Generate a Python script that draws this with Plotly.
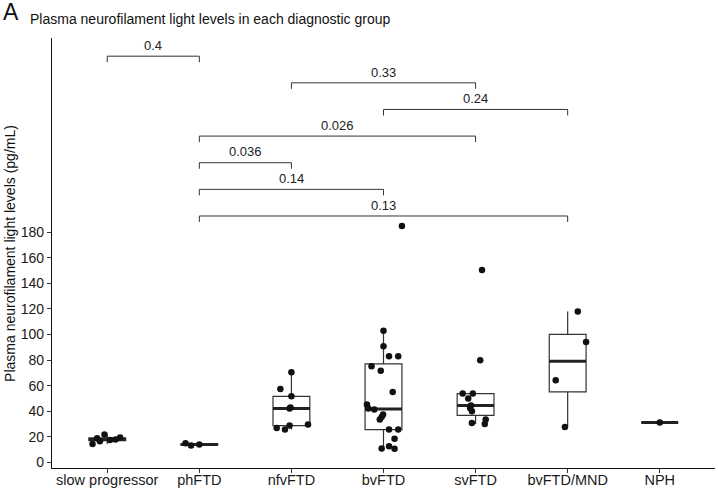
import numpy as np
import plotly.graph_objects as go

# ---------------- data ----------------
categories = ["slow progressor", "phFTD", "nfvFTD", "bvFTD", "svFTD", "bvFTD/MND", "NPH"]

values_slow = [21.8, 14.5, 16.5, 17.5, 18.0, 19.0, 19.5]
values_ph = [15.0, 13.2, 14.0]
values_nfv = [70.4, 57.4, 51.7, 42.1, 43.0, 27.0, 25.7, 28.8, 29.6]
values_bv = [184.7, 102.9, 90.7, 82.9, 82.9, 75.1, 71.7, 55.1, 45.2, 42.1,
             41.3, 37.4, 35.6, 33.5, 25.7, 25.7, 18.5, 10.9, 12.7, 10.7]
values_sv = [150.4, 79.8, 53.8, 53.8, 49.9, 44.5, 42.6, 40.0, 33.5, 30.9, 30.1]
values_mnd = [117.9, 94.1, 64.2, 27.8]
values_nph = [31.2]

# horizontal jitter of each point (category units)
jitter_slow = [-0.03, -0.16, -0.08, 0.03, 0.09, -0.11, 0.14]
jitter_ph = [-0.15, -0.09, 0.0]
jitter_nfv = [0.0, -0.12, 0.0, -0.02, -0.01, -0.16, -0.07, -0.02, 0.18]
jitter_bv = [0.20, 0.0, 0.0, 0.06, 0.16, -0.13, -0.03, 0.10, -0.18, -0.165,
             -0.10, -0.005, -0.02, -0.04, 0.06, 0.16, 0.12, -0.02, 0.06, 0.12]
jitter_sv = [0.07, 0.05, -0.14, -0.03, -0.08, -0.05, -0.06, -0.04, 0.11, -0.04, 0.10]
jitter_mnd = [0.11, 0.20, -0.13, -0.03]
jitter_nph = [0.0]

group_values = [values_slow, values_ph, values_nfv, values_bv, values_sv, values_mnd, values_nph]
group_jitter = [jitter_slow, jitter_ph, jitter_nfv, jitter_bv, jitter_sv, jitter_mnd, jitter_nph]

# pairwise comparisons (group 1, group 2, p-value label), bottom to top
comp_group1 = ["phFTD", "phFTD", "phFTD", "phFTD", "bvFTD", "nfvFTD", "slow progressor"]
comp_group2 = ["bvFTD/MND", "bvFTD", "nfvFTD", "svFTD", "bvFTD/MND", "svFTD", "phFTD"]
comp_labels = ["0.13", "0.14", "0.036", "0.026", "0.24", "0.33", "0.4"]
comp_y = [192.5, 213.3, 234.1, 254.9, 275.7, 296.5, 317.3]

y_ticks = [0, 20, 40, 60, 80, 100, 120, 140, 160, 180]

# ---------------- figure ----------------
FONT = "Liberation Sans, Arial, Helvetica, sans-serif"
BOX_W = 0.4
fig = go.Figure()


def box_stats(v):
    a = np.asarray(v, dtype=float)
    q1, med, q3 = np.percentile(a, [25, 50, 75])
    iqr = q3 - q1
    lo = a[a >= q1 - 1.5 * iqr].min()
    hi = a[a <= q3 + 1.5 * iqr].max()
    return q1, med, q3, lo, hi


for i, vals in enumerate(group_values):
    q1, med, q3, lo, hi = box_stats(vals)
    fig.add_trace(go.Box(
        x=[i], q1=[q1], median=[med], q3=[q3], lowerfence=[lo], upperfence=[hi],
        width=BOX_W, whiskerwidth=0, boxpoints=False,
        fillcolor="white", line=dict(color="#333333", width=1.2),
        showlegend=False, hoverinfo="skip",
    ))
    # thicker median line (as in ggplot)
    fig.add_trace(go.Scatter(
        x=[i - BOX_W / 2, i + BOX_W / 2], y=[med, med], mode="lines",
        line=dict(color="#222222", width=3), showlegend=False, hoverinfo="skip",
    ))

for i, (vals, jit) in enumerate(zip(group_values, group_jitter)):
    fig.add_trace(go.Scatter(
        x=[i + j for j in jit], y=vals, mode="markers",
        marker=dict(color="#111111", size=6.5, line=dict(width=0)),
        showlegend=False, hoverinfo="skip",
    ))

# significance brackets
tip = 4.7
bx, by = [], []
annotations = []
for g1, g2, lab, yv in zip(comp_group1, comp_group2, comp_labels, comp_y):
    a = categories.index(g1)
    b = categories.index(g2)
    bx += [a, a, b, b, None]
    by += [yv - tip, yv, yv, yv - tip, None]
    annotations.append(dict(
        x=(a + b) / 2, y=yv + 1.0, xref="x", yref="y", text=lab, showarrow=False,
        yanchor="bottom", xanchor="center", font=dict(family=FONT, size=13, color="#222222"),
    ))
fig.add_trace(go.Scatter(
    x=bx, y=by, mode="lines", line=dict(color="#333333", width=1),
    showlegend=False, hoverinfo="skip",
))

# panel letter, title, y-axis title
annotations.append(dict(
    x=-0.0775, y=1.06, xref="paper", yref="paper", text="A", showarrow=False,
    xanchor="left", yanchor="middle", font=dict(family=FONT, size=23, color="#111111"),
))
annotations.append(dict(
    x=-0.0365, y=1.044, xref="paper", yref="paper",
    text="Plasma neurofilament light levels in each diagnostic group", showarrow=False,
    xanchor="left", yanchor="middle", font=dict(family=FONT, size=14, color="#111111"),
))
annotations.append(dict(
    x=-0.0635, y=0.5, xref="paper", yref="paper",
    text="Plasma neurofilament light levels (pg/mL)", showarrow=False, textangle=-90,
    xanchor="center", yanchor="middle", font=dict(family=FONT, size=14, color="#111111"),
))

fig.update_layout(
    width=718, height=493,
    margin=dict(l=52, r=3, t=38, b=25, autoexpand=False),
    paper_bgcolor="white", plot_bgcolor="white",
    annotations=annotations,
    showlegend=False,
    xaxis=dict(
        range=[-0.6, 6.6], tickvals=list(range(len(categories))), ticktext=categories,
        automargin=False,
        showgrid=False, zeroline=False, showline=True, linecolor="#111111", linewidth=1.3,
        ticks="outside", ticklen=4, tickcolor="#333333", tickwidth=1,
        ticklabelstandoff=-6,
        tickfont=dict(family=FONT, size=14.5, color="#1a1a1a"),
    ),
    yaxis=dict(
        range=[-4.3, 331.5], tickvals=y_ticks,
        automargin=False,
        showgrid=False, zeroline=False, showline=True, linecolor="#111111", linewidth=1.3,
        ticks="outside", ticklen=4, tickcolor="#333333", tickwidth=1,
        tickfont=dict(family=FONT, size=14, color="#1a1a1a"),
    ),
)

fig.write_html(
    "out.html",
    config={"displayModeBar": False},
    post_script="document.body.style.margin='0';document.body.style.overflow='hidden';",
)
